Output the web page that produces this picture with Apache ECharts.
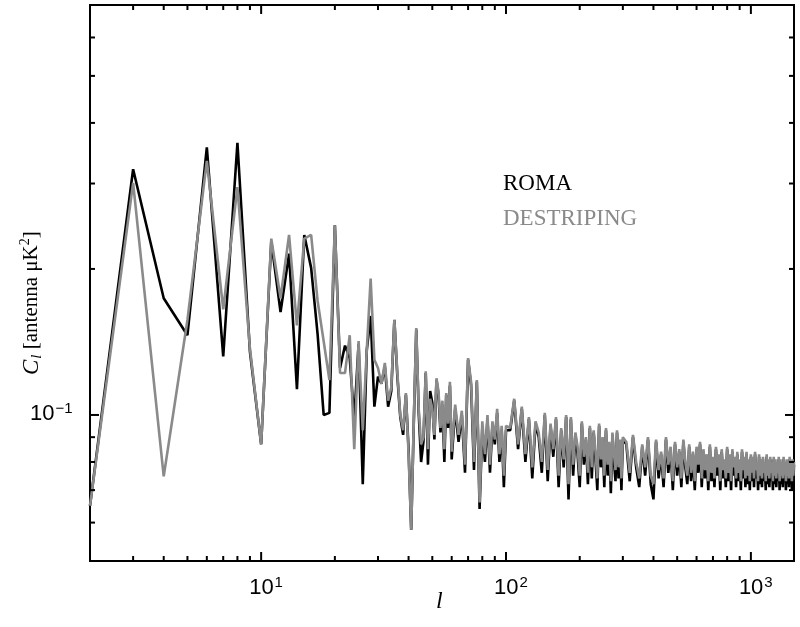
<!DOCTYPE html>
<html><head><meta charset="utf-8">
<script src="https://cdn.jsdelivr.net/npm/echarts@6/dist/echarts.min.js"></script>
<style>html,body{margin:0;padding:0;background:#fff}#c{width:800px;height:627px}</style>
</head><body><div id="c"></div>
<script>
// multipole grid: every l 2..60, step 2 to 100, step 4 to 300, step 10 to 1500
const ells = [];
for (let l = 2; l <= 60; l++) ells.push(l);
for (let l = 62; l <= 100; l += 2) ells.push(l);
for (let l = 104; l <= 300; l += 4) ells.push(l);
for (let l = 310; l <= 1500; l += 10) ells.push(l);

const destriping = [
0.065,0.301,0.0747,0.157,0.334,0.165,0.295,0.137,0.087,0.231,0.174,0.235,0.153,0.231,0.235,0.172,0.142,0.118,0.246,0.122,
0.122,0.146,0.085,0.142,0.093,0.136,0.191,0.130,0.125,0.116,0.128,0.107,0.114,0.157,0.122,0.100,0.093,0.111,0.083,0.058,
0.097,0.151,0.103,0.087,0.090,0.123,0.085,0.108,0.103,0.091,0.119,0.112,0.094,0.107,0.085,0.111,0.096,0.117,0.084,
0.105,0.091,0.102,0.079,0.131,0.117,0.080,0.118,0.066,0.097,0.083,0.100,0.079,0.097,0.089,0.103,0.083,0.095,0.075,0.095,
0.094,0.108,0.087,0.104,0.083,0.099,0.078,0.097,0.092,0.080,0.101,0.077,0.096,0.085,0.099,0.075,0.094,0.081,0.100,0.072,
0.099,0.079,0.092,0.086,0.075,0.097,0.082,0.090,0.076,0.095,0.078,0.093,0.084,0.074,0.096,0.081,0.090,0.075,0.094,0.079,
0.088,0.073,0.092,0.083,0.077,0.093,0.078,0.089,0.074,0.090,
0.088,0.076,0.091,0.080,0.074,0.087,0.078,0.090,0.075,0.072,
0.089,0.077,0.084,0.074,0.090,0.079,0.086,0.073,0.088,0.078,
0.085,0.074,0.089,0.080,0.075,0.087,0.076,0.084,0.073,0.086,
0.079,0.088,0.074,0.085,0.077,0.083,0.073,0.087,0.076,0.082,
0.074,0.086,0.078,0.083,0.073,0.085,0.077,0.081,0.074,0.086,
0.076,0.083,0.073,0.085,0.078,0.082,0.074,0.084,0.076,0.081,
0.073,0.085,0.077,0.082,0.074,0.084,0.075,0.081,0.073,0.083,
0.076,0.082,0.074,0.084,0.077,0.080,0.073,0.083,0.075,0.081,
0.074,0.082,0.076,0.080,0.073,0.083,0.075,0.081,0.074,0.082,
0.076,0.080,0.073,0.082,0.075,0.081,0.074,0.080,0.076,0.082,
0.073,0.081,0.075,0.080,0.074,0.082,0.076,0.079,0.073,0.081,
0.075,0.080,0.074,0.082,0.076,0.079,0.073,0.081,0.075,0.080
];
const roma = [
0.065,0.321,0.174,0.146,0.356,0.132,0.364,0.135,0.087,0.228,0.163,0.215,0.113,0.235,0.201,0.147,0.100,0.101,0.246,0.125,
0.139,0.131,0.098,0.140,0.072,0.136,0.160,0.104,0.120,0.116,0.126,0.104,0.112,0.157,0.120,0.099,0.091,0.110,0.085,0.058,
0.096,0.150,0.101,0.080,0.088,0.122,0.079,0.112,0.106,0.089,0.118,0.110,0.092,0.105,0.080,0.110,0.094,0.115,0.081,
0.103,0.088,0.100,0.076,0.130,0.115,0.077,0.117,0.064,0.094,0.080,0.098,0.076,0.095,0.087,0.101,0.080,0.093,0.071,0.093,
0.093,0.107,0.085,0.103,0.080,0.098,0.074,0.096,0.090,0.076,0.100,0.073,0.095,0.082,0.098,0.071,0.093,0.078,0.099,0.067,
0.098,0.075,0.091,0.083,0.071,0.096,0.079,0.089,0.072,0.094,0.074,0.092,0.081,0.070,0.095,0.078,0.089,0.071,0.093,0.075,
0.087,0.069,0.091,0.080,0.073,0.092,0.074,0.088,0.070,0.089,
0.087,0.073,0.090,0.078,0.071,0.086,0.075,0.089,0.072,0.067,
0.088,0.074,0.083,0.071,0.089,0.076,0.085,0.070,0.087,0.075,
0.084,0.071,0.088,0.078,0.072,0.086,0.073,0.083,0.070,0.085,
0.076,0.087,0.071,0.084,0.074,0.082,0.070,0.086,0.073,0.081,
0.071,0.085,0.075,0.082,0.070,0.084,0.074,0.080,0.071,0.085,
0.073,0.082,0.070,0.084,0.075,0.081,0.071,0.083,0.073,0.080,
0.070,0.084,0.074,0.081,0.071,0.083,0.072,0.080,0.070,0.082,
0.073,0.081,0.071,0.083,0.074,0.079,0.070,0.082,0.072,0.080,
0.071,0.081,0.073,0.079,0.070,0.082,0.072,0.080,0.071,0.081,
0.073,0.079,0.070,0.081,0.072,0.080,0.071,0.079,0.073,0.081,
0.070,0.080,0.072,0.079,0.071,0.081,0.073,0.078,0.070,0.080,
0.072,0.079,0.071,0.081,0.073,0.078,0.070,0.080,0.072,0.079
];
const xMajor = [10, 100, 1000];
const xMajorLabels = ['1', '2', '3'];
const xMinor = [3,4,5,6,7,8,9,20,30,40,50,60,70,80,90,200,300,400,500,600,700,800,900];
const yMajor = [0.1];
const yMinor = [0.06,0.07,0.08,0.09,0.2,0.3,0.4,0.5,0.6];

const XMIN = 2, XMAX = 1500, YMIN = 0.05, YMAX = 0.7;
const chart = echarts.init(document.getElementById('c'), null, {renderer: 'canvas'});
const pair = (vals) => ells.map((l, i) => [l, vals[i]]);
chart.setOption({
  animation: false,
  grid: {left: 90, top: 5, right: 6, bottom: 66, show: true, borderColor: '#000', borderWidth: 2, backgroundColor: '#fff'},
  xAxis: {type: 'log', logBase: 10, min: XMIN, max: XMAX, axisLine: {show: false}, axisTick: {show: false}, axisLabel: {show: false}, splitLine: {show: false}},
  yAxis: {type: 'log', logBase: 10, min: YMIN, max: YMAX, axisLine: {show: false}, axisTick: {show: false}, axisLabel: {show: false}, splitLine: {show: false}},
  series: [
    {name: 'ROMA', type: 'line', data: pair(roma), showSymbol: false, lineStyle: {color: '#000', width: 2.6}, z: 2},
    {name: 'DESTRIPING', type: 'line', data: pair(destriping), showSymbol: false, lineStyle: {color: '#8a8a8a', width: 2.6}, z: 3}
  ]
});

const g = [];
const pTL = chart.convertToPixel({gridIndex: 0}, [XMIN, YMAX]);
const pBR = chart.convertToPixel({gridIndex: 0}, [XMAX, YMIN]);
const X0 = pTL[0], Y0 = pTL[1], X1 = pBR[0], Y1 = pBR[1];
const ln = (x1, y1, x2, y2) => g.push({type: 'line', shape: {x1, y1, x2, y2}, style: {stroke: '#000', lineWidth: 2}, z: 10});
function xt(v, len) { const x = chart.convertToPixel({xAxisIndex: 0}, v); ln(x, Y1, x, Y1 - len); ln(x, Y0, x, Y0 + len); return x; }
function yt(v, len) { const y = chart.convertToPixel({yAxisIndex: 0}, v); ln(X0, y, X0 + len, y); ln(X1, y, X1 - len, y); return y; }
xMinor.forEach(v => xt(v, 5));
xMajor.forEach((v, i) => {
  const x = xt(v, 9);
  g.push({type: 'text', x: x - 12, y: Y1 + 14, style: {text: '{b|10}{s|' + xMajorLabels[i] + '}', rich: {b: {fontFamily: 'Liberation Sans', fontSize: 22, fill: '#000'}, s: {fontFamily: 'Liberation Sans', fontSize: 15, fill: '#000', verticalAlign: 'top', padding: [0,0,10,1]}}}});
});
yMinor.forEach(v => yt(v, 5));
yMajor.forEach(v => {
  const y = yt(v, 9);
  g.push({type: 'text', x: X0 - 60, y: y - 14, style: {text: '{b|10}{s|−1}', rich: {b: {fontFamily: 'Liberation Sans', fontSize: 22, fill: '#000'}, s: {fontFamily: 'Liberation Sans', fontSize: 15, fill: '#000', verticalAlign: 'top', padding: [0,0,10,1]}}}});
});
g.push({type: 'text', x: 436, y: 590, style: {text: 'l', fontFamily: 'Liberation Serif', fontStyle: 'italic', fontSize: 24, fill: '#000'}});
g.push({type: 'text', x: 18, y: 375, rotation: Math.PI / 2, style: {
  text: '{i|C}{sub|l}{n| [antenna μK}{sup|2}{n|]}',
  rich: {i: {fontFamily: 'Liberation Serif', fontStyle: 'italic', fontSize: 23, fill: '#000'},
         sub: {fontFamily: 'Liberation Serif', fontStyle: 'italic', fontSize: 15, fill: '#000', padding: [12,0,0,1]},
         n: {fontFamily: 'Liberation Serif', fontSize: 21, fill: '#000'},
         sup: {fontFamily: 'Liberation Serif', fontSize: 14, fill: '#000', padding: [0,0,12,0]}}}});
g.push({type: 'text', x: 503, y: 172, style: {text: 'ROMA', fontFamily: 'Liberation Serif', fontSize: 23, fill: '#000'}});
g.push({type: 'text', x: 503, y: 207, style: {text: 'DESTRIPING', fontFamily: 'Liberation Serif', fontSize: 23, fill: '#8a8a8a'}});
chart.setOption({graphic: g});
</script></body></html>
